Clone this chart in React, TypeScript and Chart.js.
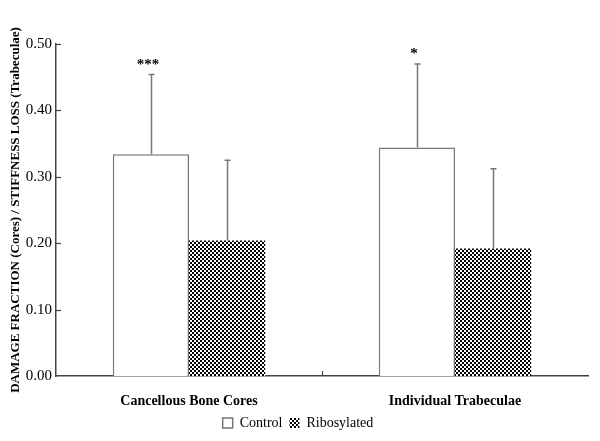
import React, { useEffect, useRef } from "react";
import { Chart, registerables } from "chart.js";

Chart.register(...registerables);

const categories = ["Cancellous Bone Cores", "Individual Trabeculae"];
const controlValues = [0.334, 0.344];
const ribosylatedValues = [0.204, 0.192];
const controlErrors = [0.12, 0.126];
const ribosylatedErrors = [0.121, 0.12];
const significance = ["***", "*"];
const yTicks = [0, 0.1, 0.2, 0.3, 0.4, 0.5];

const SERIF = "'Liberation Serif', 'Times New Roman', serif";

function makePattern(): CanvasPattern | string {
  const c = document.createElement("canvas");
  c.width = 4;
  c.height = 4;
  const ctx = c.getContext("2d");
  if (!ctx) return "#555";
  ctx.fillStyle = "#ffffff";
  ctx.fillRect(0, 0, 4, 4);
  ctx.fillStyle = "#000000";
  ctx.fillRect(0, 0, 2, 2);
  ctx.fillRect(2, 2, 2, 2);
  const p = ctx.createPattern(c, "repeat");
  return p || "#555";
}

const overlayPlugin = {
  id: "overlay",
  afterDatasetsDraw(chart: any) {
    const ctx = chart.ctx;
    const y = chart.scales.y;
    const x = chart.scales.x;
    const area = chart.chartArea;
    ctx.save();
    // inward y ticks
    ctx.strokeStyle = "#444";
    ctx.lineWidth = 1.2;
    yTicks.forEach((v) => {
      if (v === 0) return;
      const py = Math.round(y.getPixelForValue(v)) + 0.5;
      ctx.beginPath();
      ctx.moveTo(area.left, py);
      ctx.lineTo(area.left + 5, py);
      ctx.stroke();
    });
    // category boundary tick
    const bx = (x.getPixelForValue(0) + x.getPixelForValue(1)) / 2;
    ctx.beginPath();
    ctx.moveTo(Math.round(bx) + 0.5, area.bottom);
    ctx.lineTo(Math.round(bx) + 0.5, area.bottom - 5);
    ctx.stroke();

    // error bars
    ctx.strokeStyle = "#777";
    ctx.lineWidth = 1.5;
    const sets = [
      { vals: controlValues, errs: controlErrors, idx: 0 },
      { vals: ribosylatedValues, errs: ribosylatedErrors, idx: 1 },
    ];
    sets.forEach((s) => {
      const meta = chart.getDatasetMeta(s.idx);
      meta.data.forEach((bar: any, i: number) => {
        const cx = Math.round(bar.x) + 0.5;
        const top = y.getPixelForValue(s.vals[i]);
        const et = y.getPixelForValue(s.vals[i] + s.errs[i]);
        ctx.beginPath();
        ctx.moveTo(cx, top);
        ctx.lineTo(cx, et);
        ctx.moveTo(cx - 3, et);
        ctx.lineTo(cx + 3, et);
        ctx.stroke();
      });
    });
    // significance markers
    const meta0 = chart.getDatasetMeta(0);
    ctx.fillStyle = "#000";
    ctx.font = "bold 15px " + SERIF;
    ctx.textAlign = "center";
    ctx.textBaseline = "bottom";
    meta0.data.forEach((bar: any, i: number) => {
      const et = y.getPixelForValue(controlValues[i] + controlErrors[i]);
      ctx.fillText(significance[i], bar.x - 3, et - 2);
    });
    ctx.restore();
  },
};

export default function App() {
  const ref = useRef<HTMLCanvasElement | null>(null);
  useEffect(() => {
    if (!ref.current) return;
    const pattern = makePattern();
    const chart = new Chart(ref.current, {
      type: "bar",
      data: {
        labels: categories,
        datasets: [
          {
            label: "Control",
            data: controlValues,
            backgroundColor: "#ffffff",
            borderColor: "#777",
            borderWidth: 1.5,
          },
          {
            label: "Ribosylated",
            data: ribosylatedValues,
            backgroundColor: pattern as any,
            borderColor: "#777",
            borderWidth: 0,
          },
        ],
      },
      options: {
        animation: false,
        responsive: false,
        layout: { padding: { top: 36, right: 4, left: 0, bottom: -7 } },
        datasets: {
          bar: { categoryPercentage: 0.573, barPercentage: 1 },
        },
        plugins: {
          tooltip: { enabled: false },
          legend: {
            position: "bottom",
            labels: {
              font: { family: SERIF, size: 14 },
              color: "#000",
              boxWidth: 10,
              boxHeight: 10,
              padding: 7,
            },
          },
        },
        scales: {
          x: {
            grid: { display: false, drawTicks: false },
            border: { color: "#444", width: 1.5 },
            ticks: {
              color: "#000",
              font: { family: SERIF, size: 14, weight: "bold" },
              padding: 17,
            },
            afterFit(scale: any) {
              scale.height = 33;
            },
          },
          y: {
            min: 0,
            max: 0.5,
            grid: { display: false, drawTicks: false },
            border: { color: "#444", width: 1.5 },
            ticks: {
              stepSize: 0.1,
              color: "#000",
              padding: 4,
              font: { family: SERIF, size: 15 },
              callback: (v: any) => Number(v).toFixed(2),
            },
            title: {
              display: true,
              text: "DAMAGE FRACTION (Cores) / STIFFNESS LOSS (Trabeculae)",
              color: "#000",
              font: { family: SERIF, size: 13, weight: "bold" },
              padding: { top: 0, bottom: 0 },
            },
            afterFit(scale: any) {
              scale.width = 48;
            },
          },
        },
      },
      plugins: [overlayPlugin],
    });
    return () => chart.destroy();
  }, []);
  return (
    <div style={{ width: 584, height: 425 }}>
      <canvas ref={ref} width={584} height={425} />
    </div>
  );
}
